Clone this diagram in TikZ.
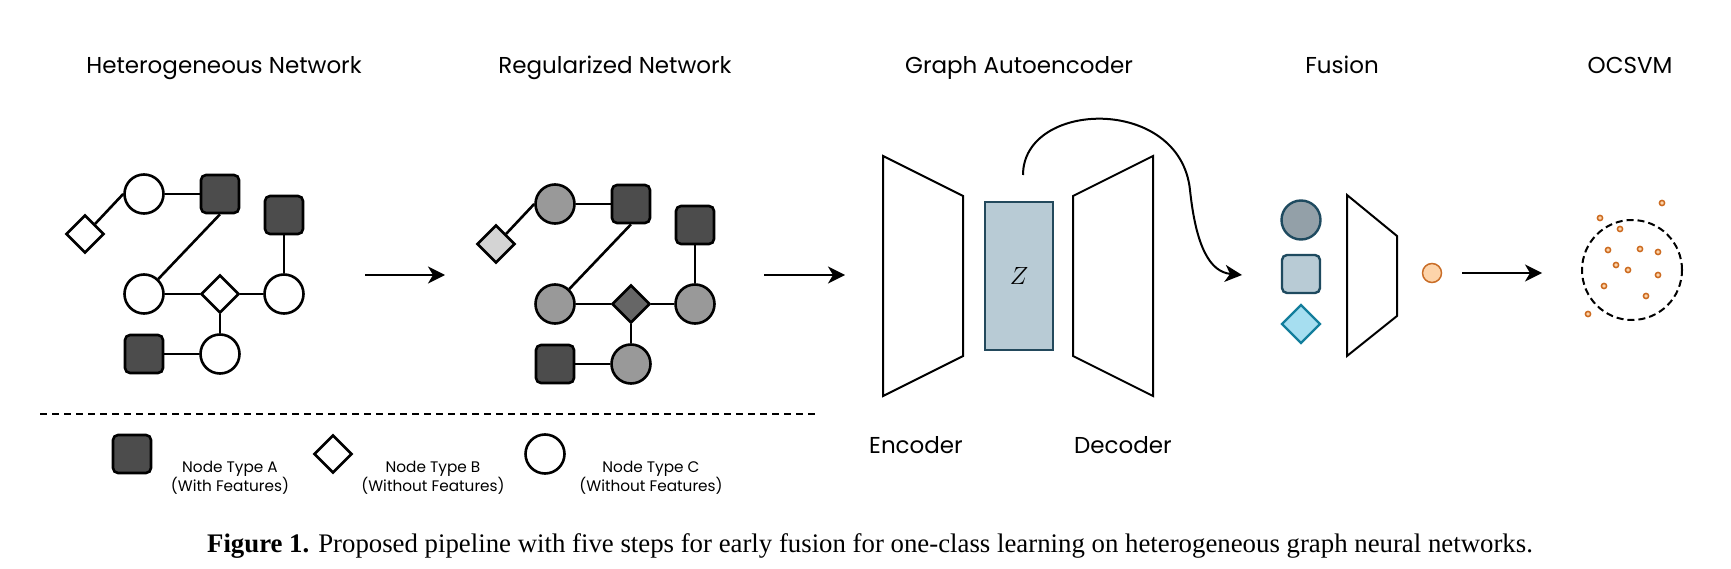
\documentclass[tikz,border=0pt]{standalone}
\usepackage{fontspec}
\setmainfont{Liberation Serif}
\newfontfamily\gothic{Poppins}
\usepackage{tikz}
\usetikzlibrary{positioning, arrows.meta, shapes.geometric}

\definecolor{zfill}{HTML}{B8CBD5}
\definecolor{zline}{HTML}{23495C}
\definecolor{fcircfill}{HTML}{93A0A8}
\definecolor{fline}{HTML}{1E4A5F}
\definecolor{fdiafill}{HTML}{A6DEF0}
\definecolor{fdialine}{HTML}{137E9C}
\definecolor{embfill}{HTML}{FDD4AA}
\definecolor{embline}{HTML}{C96D27}
\definecolor{dotline}{HTML}{CC6A1F}

\newcommand{\titlefont}{\gothic\fontsize{23}{26}\selectfont}
\newcommand{\keyfont}{\gothic\fontsize{15.3}{17.6}\selectfont}

\begin{document}
\begin{tikzpicture}[
    x=1pt, y=-1pt,
    node distance=76pt, on grid,
    feat/.style={draw, rectangle, rounded corners=5pt, minimum size=38pt,
                 inner sep=0pt, line width=2.6pt, fill=black!70},
    nofeat/.style={draw, diamond, minimum size=38pt, inner sep=0pt,
                   line width=2.6pt, fill=white},
    plain/.style={draw, circle, minimum size=39pt, inner sep=0pt,
                  line width=2.6pt, fill=white},
    link/.style={line width=2.6pt},
    box/.style={line width=2pt, line join=miter},
    flow/.style={-{Stealth[length=17pt, width=17pt, inset=5pt]}, line width=2pt},
    title/.style={font=\titlefont, anchor=base},
    keytext/.style={font=\keyfont, align=center}
]
\useasboundingbox (0,0) rectangle (1731,569);

% titles
\node[title] (t-het) at (224,74) {Heterogeneous Network};
\node[title] (t-reg) at (615,74) {Regularized Network};
\node[title] (t-gae) at (1019,74) {Graph Autoencoder};
\node[title] (t-fus) at (1342,74) {Fusion};
\node[title] (t-svm) at (1630,74) {OCSVM};

% heterogeneous network
\node[plain] (h-c1) at (144,194) {};
\node[feat, right=of h-c1] (h-a1) {};
\node[nofeat, below left=40pt and 59pt of h-c1] (h-b1) {};
\node[plain, below=100pt of h-c1] (h-c2) {};
\node[nofeat, right=of h-c2] (h-b2) {};
\node[plain, right=64pt of h-b2] (h-c3) {};
\node[feat, above=79pt of h-c3] (h-a2) {};
\node[plain, below=60pt of h-b2] (h-c4) {};
\node[feat, below=60pt of h-c2] (h-a3) {};

\draw[link] (h-b1.north east) -- (h-c1.west);
\draw[link] (h-c1) -- (h-a1);
\draw[link] (h-a1.south) -- (h-c2);
\draw[link] (h-c2) -- (h-b2);
\draw[link] (h-b2) -- (h-c3);
\draw[link] (h-a2) -- (h-c3);
\draw[link] (h-b2) -- (h-c4);
\draw[link] (h-a3) -- (h-c4);

\coordinate (arr1s) at (365,275);
\coordinate (arr1e) at (445,275);
\draw[flow] (arr1s) -- (arr1e);

% regularized network
\node[plain, fill=black!40] (r-c1) at (555,204) {};
\node[feat, right=of r-c1] (r-a1) {};
\node[nofeat, fill=black!17, below left=40pt and 59pt of r-c1] (r-b1) {};
\node[plain, fill=black!40, below=100pt of r-c1] (r-c2) {};
\node[nofeat, fill=black!60, right=of r-c2] (r-b2) {};
\node[plain, fill=black!40, right=64pt of r-b2] (r-c3) {};
\node[feat, above=79pt of r-c3] (r-a2) {};
\node[plain, fill=black!40, below=60pt of r-b2] (r-c4) {};
\node[feat, below=60pt of r-c2] (r-a3) {};

\draw[link] (r-b1.north east) -- (r-c1.west);
\draw[link] (r-c1) -- (r-a1);
\draw[link] (r-a1.south) -- (r-c2);
\draw[link] (r-c2) -- (r-b2);
\draw[link] (r-b2) -- (r-c3);
\draw[link] (r-a2) -- (r-c3);
\draw[link] (r-b2) -- (r-c4);
\draw[link] (r-a3) -- (r-c4);

\coordinate (arr2s) at (764,275);
\coordinate (arr2e) at (845,275);
\draw[flow] (arr2s) -- (arr2e);

% legend
\draw[line width=1.6pt, dash pattern=on 7pt off 5pt] (40,414) -- (817,414);
\node[feat] (key-a) at (132,454) {};
\node[nofeat] (key-b) at (333,454) {};
\node[plain] (key-c) at (545,454) {};
\node[keytext] (key-a-txt) at (230,478) {Node Type A\\(With Features)};
\node[keytext] (key-b-txt) at (433,478) {Node Type B\\(Without Features)};
\node[keytext] (key-c-txt) at (651,478) {Node Type C\\(Without Features)};

% graph autoencoder
\draw[box] (883,156) -- (963,196) -- (963,356) -- (883,396) -- cycle;
\node[draw=zline, fill=zfill, line width=2pt, minimum width=68pt, minimum height=148pt,
      font=\fontsize{23}{23}\selectfont] (z) at (1019,276) {$Z$};
\draw[box] (1073,196) -- (1153,156) -- (1153,396) -- (1073,356) -- cycle;
\node[title] (enc) at (916,453) {Encoder};
\node[title] (dec) at (1123,453) {Decoder};

\coordinate (zout) at (1023,175);
\coordinate (fin) at (1242,275);
\draw[flow] (zout) .. controls (1023,100) and (1180,95) .. (1190,190)
                   .. controls (1196,247) and (1210,272) .. (fin);

% fusion
\node[draw=fline, fill=fcircfill, circle, minimum size=39pt, line width=2.4pt] (f-c) at (1301,220) {};
\node[draw=fline, fill=zfill, rectangle, rounded corners=5pt, minimum size=38pt,
      line width=2.4pt, below=54pt of f-c] (f-a) {};
\node[draw=fdialine, fill=fdiafill, diamond, minimum size=39pt, inner sep=0pt,
      line width=2.4pt, below=50pt of f-a] (f-b) {};
\draw[box] (1347,195) -- (1397,236) -- (1397,316) -- (1347,356) -- cycle;
\node[draw=embline, fill=embfill, circle, minimum size=19pt, inner sep=0pt, line width=1.5pt] (emb) at (1432,273) {};

\coordinate (arr3s) at (1462,273);
\coordinate (arr3e) at (1542,273);
\draw[flow] (arr3s) -- (arr3e);

% ocsvm
\node[draw, circle, minimum size=100pt, line width=2pt, dash pattern=on 7pt off 4pt] (svm) at (1632,270) {};
\foreach \px/\py in {1600/218, 1662/203, 1620/229, 1608/250, 1640/249, 1658/252,
                     1616/265, 1628/270, 1658/275, 1604/286, 1646/296, 1588/314}
  \draw[dotline, fill=embfill, line width=1.5pt] (\px,\py) circle (2.6pt);

% caption
\node[font=\fontsize{26.8}{30}\selectfont, anchor=base] (caption) at (870,552)
  {\textbf{Figure 1.} Proposed pipeline with five steps for early fusion for one-class learning on heterogeneous graph neural networks.};

\end{tikzpicture}
\end{document}
